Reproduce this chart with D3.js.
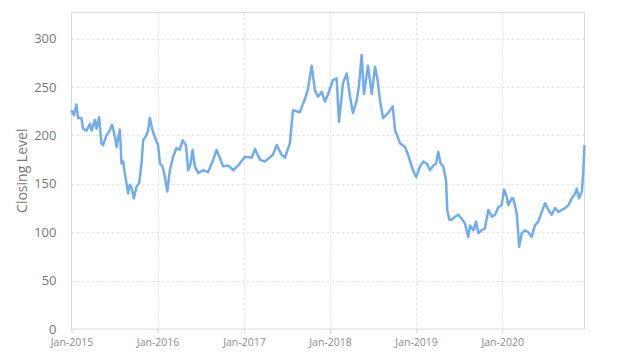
<!DOCTYPE html>
<html lang="en">
<head>
<meta charset="utf-8">
<title>Closing Level</title>
<script src="https://cdn.jsdelivr.net/npm/d3@7"></script>
<style>
    body { margin: 0; background: #fff; }
    svg text { font-family: "Open Sans", "DejaVu Sans", sans-serif; fill: #777; }
</style>
</head>
<body>
<svg id="chart" width="624" height="363"></svg>
<script>
// values (roughly every two weeks)
var dates = [
    '2015-01-01','2015-01-11','2015-01-22','2015-01-29','2015-02-12','2015-02-19','2015-03-06','2015-03-20',
    '2015-03-27','2015-04-10','2015-04-17','2015-04-28','2015-05-08','2015-05-15','2015-05-29','2015-06-12',
    '2015-06-22','2015-07-04','2015-07-11','2015-07-25','2015-08-01','2015-08-08','2015-08-15','2015-08-22',
    '2015-08-29','2015-09-05','2015-09-13','2015-09-22','2015-10-04','2015-10-15','2015-10-25','2015-11-01',
    '2015-11-12','2015-11-22','2015-11-29','2015-12-11','2015-12-25','2016-01-03','2016-01-11','2016-01-22',
    '2016-02-01','2016-02-11','2016-02-22','2016-03-07','2016-03-21','2016-04-04','2016-04-16','2016-04-30',
    '2016-05-10','2016-05-20','2016-05-28','2016-06-07','2016-06-21','2016-07-12','2016-08-02','2016-08-24',
    '2016-09-07','2016-09-21','2016-10-05','2016-10-26','2016-11-17','2016-12-08','2017-01-05','2017-02-03',
    '2017-02-17','2017-03-10','2017-03-31','2017-05-04','2017-05-20','2017-06-10','2017-06-24','2017-07-15',
    '2017-07-28','2017-08-26','2017-09-17','2017-09-29','2017-10-15','2017-10-29','2017-11-11','2017-11-27',
    '2017-12-11','2017-12-23','2018-01-13','2018-01-29','2018-02-08','2018-02-25','2018-03-13','2018-03-27',
    '2018-04-08','2018-04-24','2018-05-04','2018-05-15','2018-05-25','2018-06-11','2018-06-27','2018-07-11',
    '2018-07-22','2018-08-01','2018-08-14','2018-09-04','2018-09-24','2018-10-04','2018-10-25','2018-11-15',
    '2018-11-28','2018-12-19','2019-01-01','2019-01-18','2019-02-01','2019-02-15','2019-03-01','2019-03-15',
    '2019-03-27','2019-04-05','2019-04-15','2019-04-26','2019-05-08','2019-05-13','2019-05-22','2019-06-01',
    '2019-06-15','2019-06-29','2019-07-13','2019-07-27','2019-08-10','2019-08-18','2019-09-01','2019-09-12',
    '2019-09-22','2019-10-06','2019-10-20','2019-11-03','2019-11-18','2019-12-02','2019-12-16','2019-12-30',
    '2020-01-09','2020-01-20','2020-01-27','2020-02-11','2020-02-17','2020-03-03','2020-03-13','2020-03-24',
    '2020-04-07','2020-04-21','2020-05-05','2020-05-19','2020-06-02','2020-06-17','2020-07-01','2020-07-15',
    '2020-07-29','2020-08-12','2020-08-26','2020-09-10','2020-09-24','2020-10-08','2020-10-22','2020-11-05',
    '2020-11-12','2020-11-22','2020-12-04','2020-12-10','2020-12-15'
];
var closes = [
    226, 221, 232, 218, 218, 207, 205, 212,
    205, 216, 207, 219, 192, 190, 200, 205,
    211, 199, 188, 206, 171, 173, 161, 151,
    140, 149, 146, 135, 147, 151, 171, 195,
    199, 205, 218, 205, 195, 190, 171, 168,
    157, 142, 164, 178, 187, 185, 195, 190,
    164, 171, 185, 168, 161, 164, 162, 175,
    185, 177, 168, 169, 164, 169, 178, 177,
    186, 175, 173, 180, 190, 180, 177, 192,
    226, 224, 238, 247, 272, 247, 240, 245,
    235, 242, 257, 259, 214, 254, 264, 240,
    223, 236, 252, 283, 243, 272, 243, 271,
    257, 236, 218, 223, 230, 205, 192, 188,
    180, 164, 157, 168, 173, 171, 164, 169,
    171, 183, 171, 168, 154, 123, 113, 113,
    116, 118, 114, 109, 95, 107, 102, 111,
    99, 102, 104, 123, 116, 118, 126, 128,
    144, 137, 128, 135, 135, 119, 85, 99,
    102, 100, 95, 107, 111, 121, 130, 123,
    118, 125, 121, 123, 125, 128, 135, 140,
    145, 135, 142, 164, 190
];
var yTicks = [0, 50, 100, 150, 200, 250, 300];
var xTicks = ['2015-01-01', '2016-01-01', '2017-01-01', '2018-01-01', '2019-01-01', '2020-01-01'];
var yTitle = 'Closing Level';

var parse = d3.timeParse('%Y-%m-%d');
var data = dates.map(function (d, i) { return { date: parse(d), close: closes[i] }; });

var svg = d3.select('#chart');
var plotLeft = 71.5, plotRight = 584.5, plotTop = 12.5, plotBottom = 329;

var x = d3.scaleTime()
    .domain(d3.extent(data, function (d) { return d.date; }))
    .range([plotLeft, plotRight]);
var y = d3.scaleLinear()
    .domain([0, 327])
    .range([plotBottom, plotTop]);

// grid
svg.append('g')
    .selectAll('line')
    .data(yTicks.slice(1))
    .join('line')
    .attr('x1', plotLeft).attr('x2', plotRight)
    .attr('y1', function (d) { return Math.round(y(d)) + 0.5; })
    .attr('y2', function (d) { return Math.round(y(d)) + 0.5; })
    .attr('stroke', '#e3e3e3')
    .attr('stroke-dasharray', '3,2');

svg.append('g')
    .selectAll('line')
    .data(xTicks.slice(1).map(parse))
    .join('line')
    .attr('x1', function (d) { return Math.round(x(d)) + 0.5; })
    .attr('x2', function (d) { return Math.round(x(d)) + 0.5; })
    .attr('y1', plotTop).attr('y2', plotBottom)
    .attr('stroke', '#e3e3e3')
    .attr('stroke-dasharray', '3,2');

// plot frame
svg.append('rect')
    .attr('x', plotLeft).attr('y', plotTop)
    .attr('width', plotRight - plotLeft).attr('height', plotBottom - plotTop)
    .attr('fill', 'none')
    .attr('stroke', '#d5dae2');

// axes
var yAxis = svg.append('g')
    .attr('transform', 'translate(' + plotLeft + ',0)')
    .call(d3.axisLeft(y).tickValues(yTicks).tickSize(0).tickPadding(15));
yAxis.select('.domain').remove();
yAxis.selectAll('text').style('font-size', '13px').attr('fill', '#777');

var xAxis = svg.append('g')
    .attr('transform', 'translate(0,' + plotBottom + ')')
    .call(d3.axisBottom(x).tickValues(xTicks.map(parse)).tickFormat(d3.timeFormat('%b-%Y')).tickSize(4).tickPadding(6));
xAxis.select('.domain').remove();
xAxis.selectAll('line').attr('stroke', '#d5dae2');
xAxis.selectAll('text').style('font-size', '10.5px').style('fill', '#8c8c8c');

svg.append('text')
    .attr('transform', 'translate(27,' + ((plotTop + plotBottom) / 2) + ') rotate(-90)')
    .style('text-anchor', 'middle')
    .style('font-size', '14px')
    .attr('fill', '#777')
    .text(yTitle);

// series
var line = d3.line()
    .x(function (d) { return x(d.date); })
    .y(function (d) { return y(d.close); });

svg.append('path')
    .datum(data)
    .attr('d', line)
    .attr('fill', 'none')
    .attr('stroke', '#72aceb')
    .attr('stroke-width', 2.5)
    .attr('stroke-linejoin', 'round');
</script>
</body>
</html>
